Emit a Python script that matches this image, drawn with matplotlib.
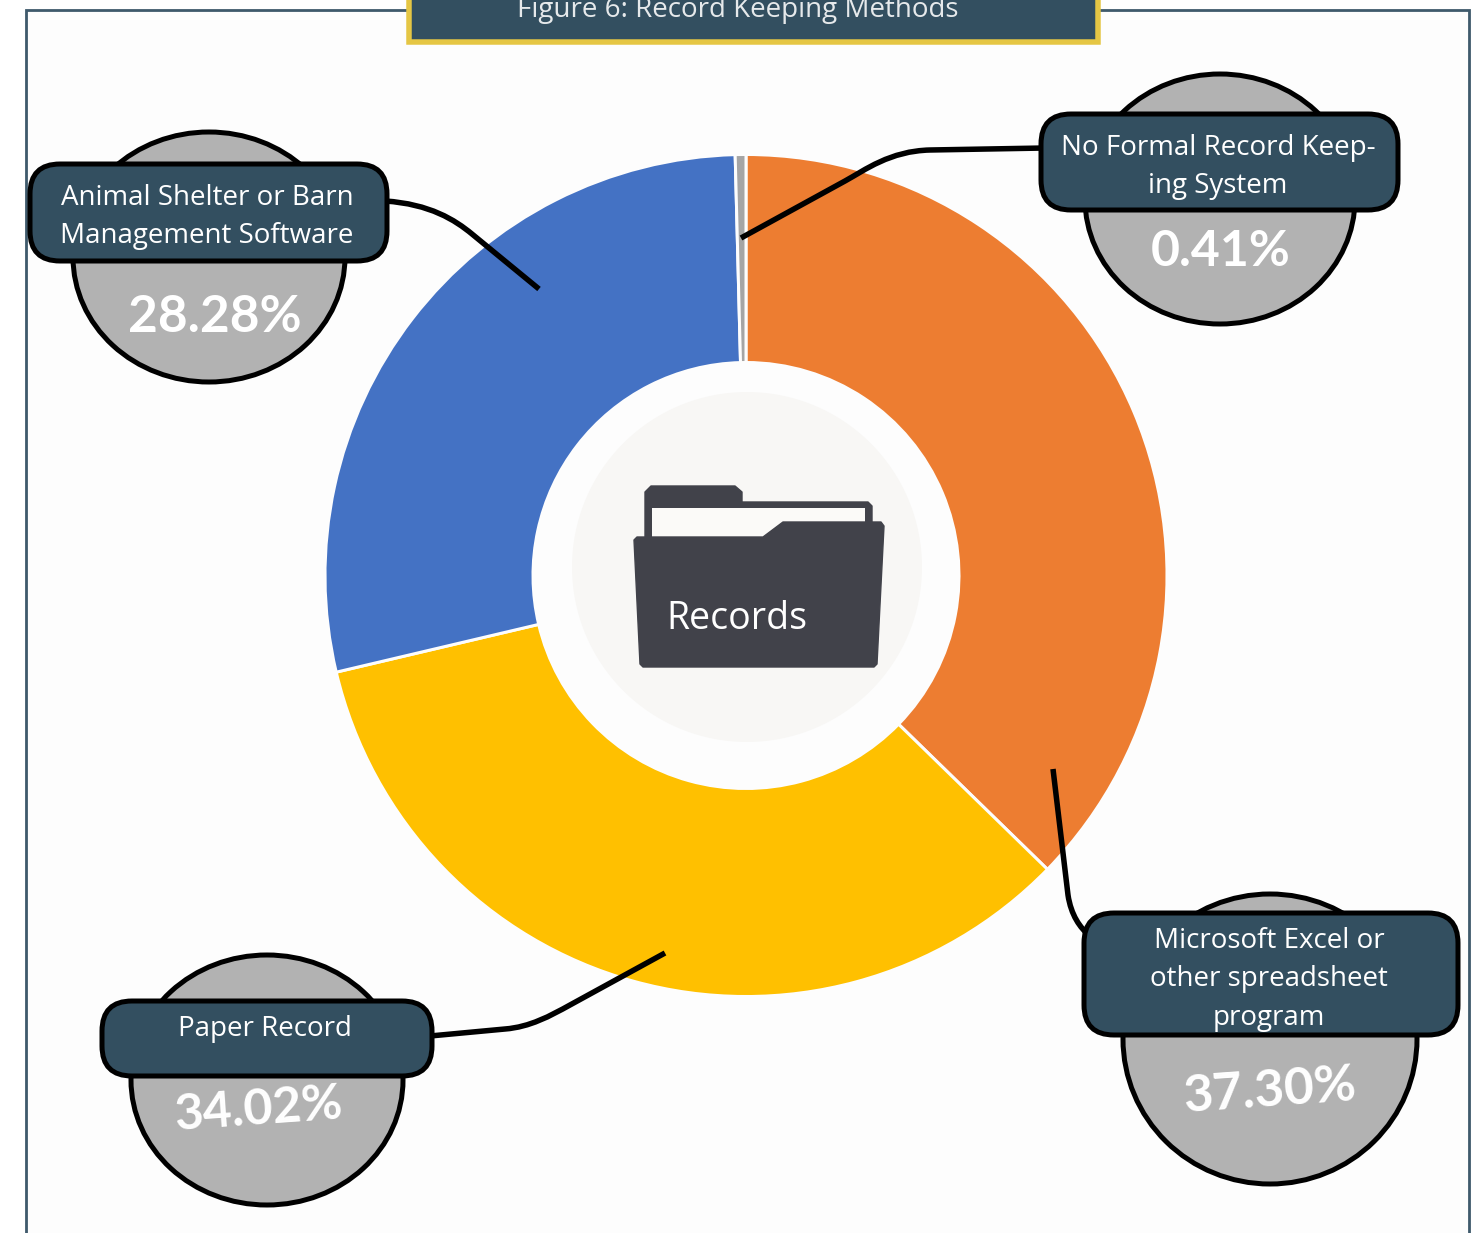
import matplotlib.pyplot as plt
from matplotlib.patches import Ellipse, FancyBboxPatch, PathPatch, Polygon, Rectangle, Circle
from matplotlib.path import Path

# clockwise from 12 o'clock
categories = [
    "Microsoft Excel or\nother spreadsheet\nprogram",
    "Paper Record",
    "Animal Shelter or Barn\nManagement Software",
    "No Formal Record Keep-\ning System",
]
values = [37.30, 34.02, 28.28, 0.41]
slice_colors = ["#ed7d31", "#ffc000", "#4472c4", "#a5a5a5"]
title = "Figure 6: Record Keeping Methods"
center_label = "Records"

NAVY = "#334f60"
GREY = "#b2b2b2"
FONT = "Open Sans"
W, H = 1483, 1233


def px(n):
    # line width in pixels to points at dpi 100
    return n * 0.72


def connector(ax, verts, codes):
    ax.add_patch(PathPatch(Path(verts, codes), fc="none", ec="black", lw=px(5.5),
                           capstyle="butt", zorder=6))


def callout(ax, circle, box, label, label_xy, pct, pct_xy, pct_size, rot):
    cx, cy, rx, ry = circle
    ax.add_patch(Ellipse((cx, cy), 2 * rx, 2 * ry, fc=GREY, ec="black", lw=px(5), zorder=7))
    x0, y0, x1, y1 = box
    ax.add_patch(FancyBboxPatch((x0 + 30, y0 + 30), x1 - x0 - 60, y1 - y0 - 60,
                                boxstyle="round,pad=30,rounding_size=30",
                                fc=NAVY, ec="black", lw=px(5), zorder=8))
    ax.text(label_xy[0], label_xy[1], label, color="white", fontsize=20, family=FONT,
            ha="center", va="center", linespacing=1.5, zorder=9)
    ax.text(pct_xy[0], pct_xy[1], pct, color="white", fontsize=pct_size, family="Lato",
            weight="bold", ha="center", va="center", rotation=rot, zorder=9)


def draw_folder(ax):
    dark = "#41424a"
    back = Polygon([(645, 545), (645, 492), (651, 486), (735, 486), (742, 492), (742, 502),
                    (868, 502), (872, 506), (872, 545)], fc=dark, ec=dark, lw=1,
                   joinstyle="round", zorder=3)
    inner = Rectangle((652, 508), 213, 40, fc="#fbfaf8", ec="none", zorder=4)
    front = Polygon([(634, 540), (637, 537), (763, 537), (783, 522), (881, 522), (884, 526),
                     (877, 664), (874, 667), (643, 667), (640, 664)], fc=dark, ec=dark, lw=1,
                    joinstyle="round", zorder=5)
    ax.add_patch(back)
    ax.add_patch(inner)
    ax.add_patch(front)


def main():
    fig = plt.figure(figsize=(W / 100, H / 100), dpi=100, facecolor="white")
    ax = fig.add_axes([0, 0, 1, 1])

    # y axis is flipped below, so counterclock here reads clockwise on the page
    ax.pie(values, colors=slice_colors, center=(746, 575.5), radius=421, startangle=-90,
           counterclock=True, frame=True,
           wedgeprops={"width": 208, "edgecolor": "#fdfdfd", "linewidth": px(3), "zorder": 2})
    ax.set_xlim(0, W)
    ax.set_ylim(H, 0)
    ax.set_aspect("equal")
    ax.axis("off")

    # outer frame and header
    ax.add_patch(Rectangle((26, 10), 1443, 1300, fc="#fdfdfd", ec="#3f5a6c", lw=px(2.8), zorder=0))
    ax.add_patch(Rectangle((408.5, -20), 689, 62, fc=NAVY, ec="#e5c644", lw=px(5.5), zorder=3))
    ax.text(738, 10, title, color="#e6e9eb", fontsize=20, family=FONT, ha="center", va="center", zorder=4)

    # centre
    ax.add_patch(Circle((747, 567), 175, fc="#f8f7f5", ec="none", zorder=2))
    draw_folder(ax)
    ax.text(737, 619, center_label, color="white", fontsize=27, family=FONT,
            ha="center", va="center", zorder=6)

    # leader lines
    L, C = Path.LINETO, Path.CURVE4
    M = Path.MOVETO
    connector(ax, [(1045, 148), (930, 150), (890, 151), (865, 170), (845, 181), (741, 238)],
              [M, L, C, C, C, L])
    connector(ax, [(385, 201), (430, 204), (455, 220), (472, 234), (539, 289)],
              [M, C, C, C, L])
    connector(ax, [(1053, 769), (1068, 895), (1071, 915), (1080, 928), (1090, 936)],
              [M, L, C, C, C])
    connector(ax, [(430, 1036), (505, 1029), (530, 1027), (550, 1016), (570, 1005), (665, 953)],
              [M, L, C, C, C, L])

    labels = [f"{v:.2f}%" for v in values]
    callout(ax, (1270, 1039, 147, 145), (1084, 913, 1458, 1035), categories[0], (1269, 979),
            labels[0], (1270, 1091), 37, 4)
    callout(ax, (267, 1080, 136, 125), (102, 1001, 432, 1076), categories[1], (265, 1029),
            labels[1], (258, 1110), 36, 4)
    callout(ax, (209, 257, 136, 125), (30, 164, 387, 261), categories[2], (207, 217),
            labels[2], (215, 317), 37, 0)
    callout(ax, (1220, 199, 135, 125), (1041, 114, 1398, 210), categories[3], (1218, 167),
            labels[3], (1221, 252), 36, 0)

    fig.savefig("out.png", dpi=100, facecolor="white")
    plt.close(fig)


if __name__ == "__main__":
    main()
